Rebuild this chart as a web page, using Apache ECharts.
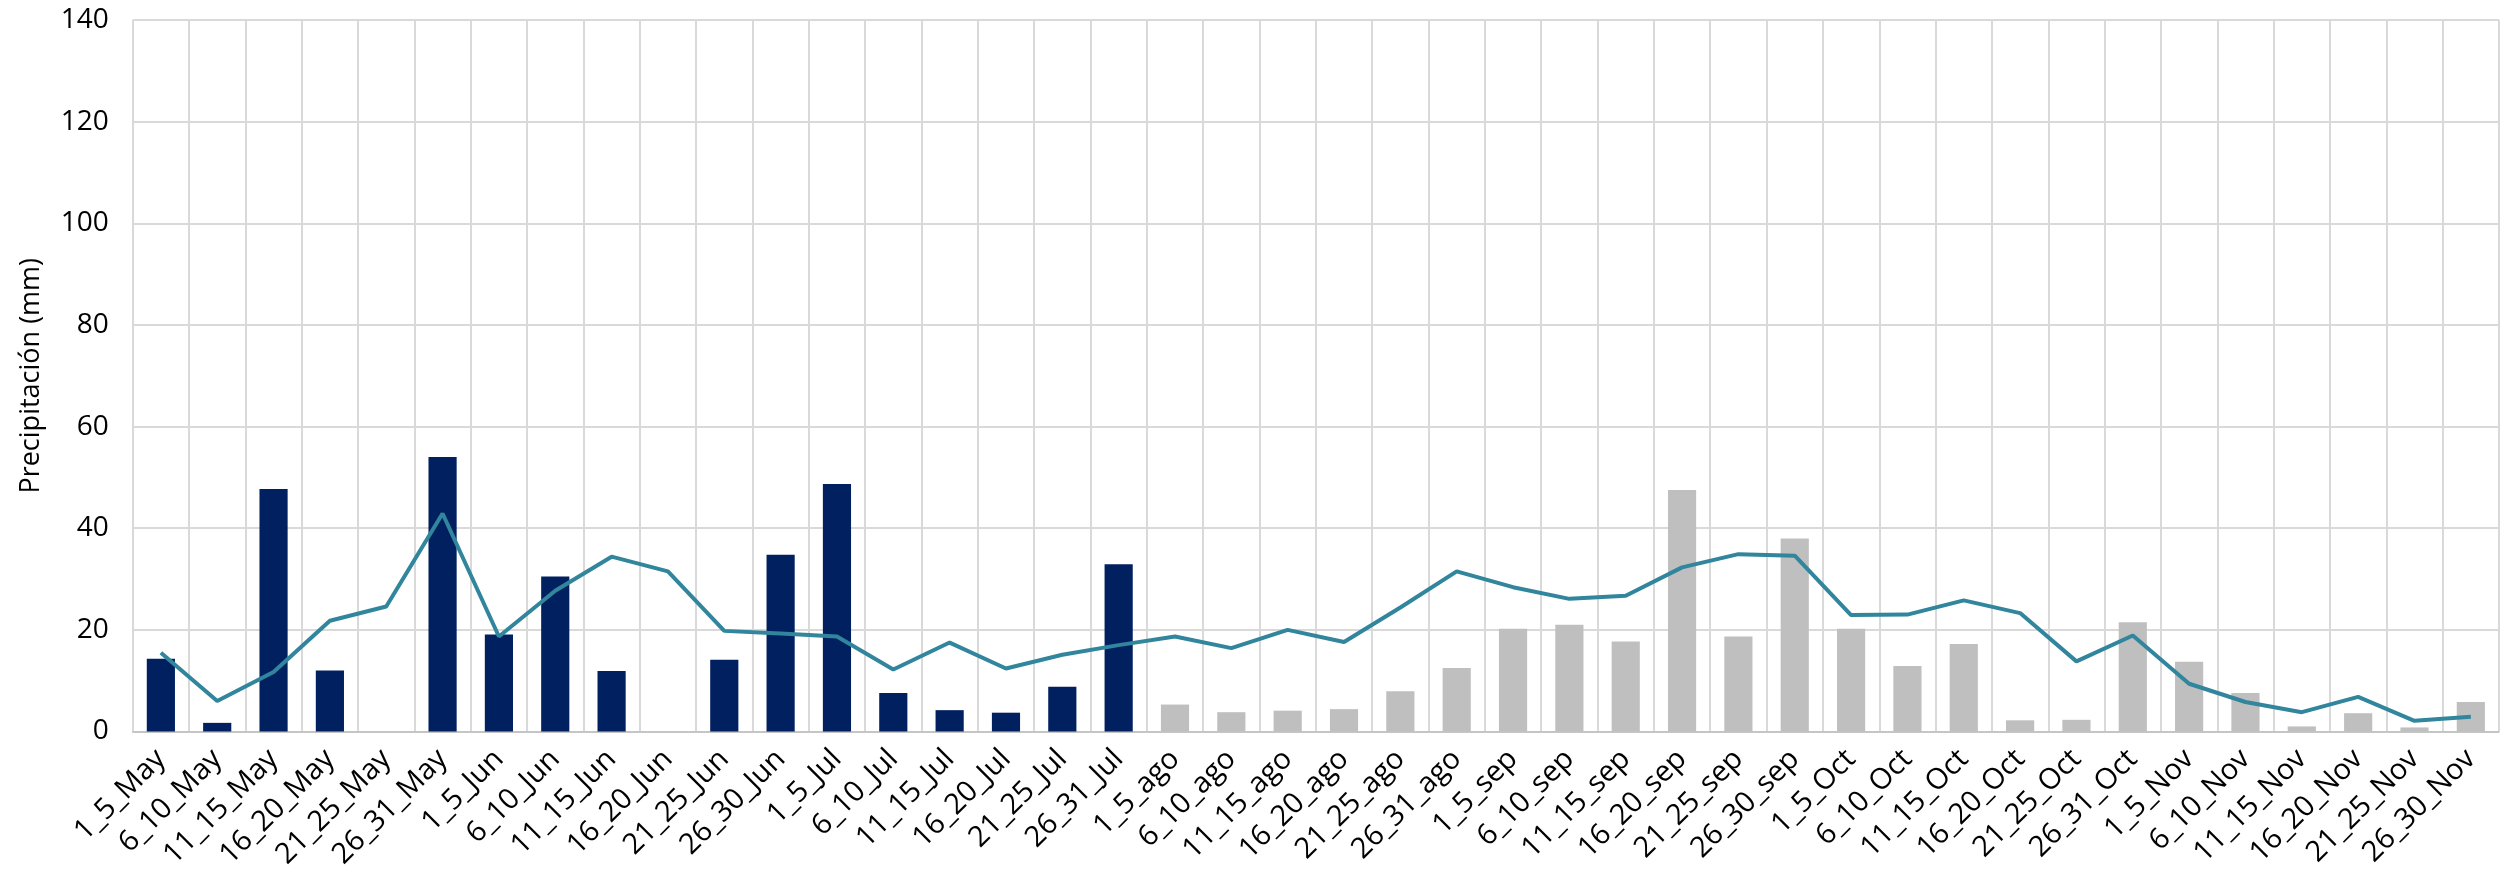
<!DOCTYPE html>
<html>
<head>
<meta charset="utf-8">
<script src="https://cdn.jsdelivr.net/npm/echarts@6/dist/echarts.min.js"></script>
<style>
html,body{margin:0;padding:0;background:#fff;}
#chart{width:2501px;height:876px;}
</style>
</head>
<body>
<div id="chart"></div>
<script>
const categories = [
  "1_5_May","6_10_May","11_15_May","16_20_May","21_25_May","26_31_May",
  "1_5_Jun","6_10_Jun","11_15_Jun","16_20_Jun","21_25_Jun","26_30_Jun",
  "1_5_Jul","6_10_Jul","11_15_Jul","16_20_Jul","21_25_Jul","26_31_Jul",
  "1_5_ago","6_10_ago","11_15_ago","16_20_ago","21_25_ago","26_31_ago",
  "1_5_sep","6_10_sep","11_15_sep","16_20_sep","21_25_sep","26_30_sep",
  "1_5_Oct","6_10_Oct","11_15_Oct","16_20_Oct","21_25_Oct","26_31_Oct",
  "1_5_Nov","6_10_Nov","11_15_Nov","16_20_Nov","21_25_Nov","26_30_Nov"
];
// observed precipitation (May-Jul)
const observedBars = [14.3,1.7,47.7,12.0,0,54.0,19.1,30.5,11.9,0,14.1,34.8,48.7,7.6,4.2,3.7,8.8,32.9];
// remaining period bars (ago-Nov)
const laterBars = [5.3,3.8,4.1,4.4,7.9,12.5,20.2,21.0,17.7,47.5,18.7,38.0,20.2,12.9,17.2,2.2,2.3,21.5,13.7,7.6,1.0,3.6,0.8,5.8];
// reference line
const lineValues = [15.5,6.0,11.7,21.8,24.6,42.9,18.7,27.7,34.4,31.5,19.8,19.3,18.7,12.2,17.5,12.4,15.1,17.0,18.7,16.4,20.0,17.6,24.4,31.5,28.4,26.1,26.7,32.3,34.9,34.6,22.9,23.0,25.8,23.3,13.8,18.9,9.4,5.8,3.8,6.8,2.1,2.9];
const yTicks = {min:0, max:140, interval:20};
const yTitle = "Precipitación (mm)";

const obsSeries = categories.map((c,i)=> i < observedBars.length ? observedBars[i] : null);
const laterSeries = categories.map((c,i)=> i >= observedBars.length ? laterBars[i-observedBars.length] : null);

const font = "'Open Sans', 'Noto Sans', sans-serif";
const chart = echarts.init(document.getElementById('chart'), null, {renderer:'canvas'});
chart.setOption({
  animation:false,
  backgroundColor:'#ffffff',
  grid:{left:132.7, right:2, top:20, bottom:144.5, containLabel:false},
  xAxis:{
    type:'category',
    data:categories,
    boundaryGap:true,
    axisLine:{show:true, lineStyle:{color:'#BFBFBF', width:1.5}},
    axisTick:{show:false, interval:0},
    splitLine:{show:true, interval:0, lineStyle:{color:'#D9D9D9', width:2}},
    axisLabel:{interval:0, rotate:45, color:'#000', fontFamily:font, fontSize:29, margin:23}
  },
  yAxis:{
    type:'value',
    min:yTicks.min, max:yTicks.max, interval:yTicks.interval,
    name:yTitle,
    nameLocation:'middle',
    nameGap:88,
    nameTextStyle:{color:'#000', fontFamily:font, fontSize:27},
    axisLine:{show:false},
    axisTick:{show:false},
    splitLine:{show:true, lineStyle:{color:'#D9D9D9', width:2}},
    axisLabel:{color:'#000', fontFamily:font, fontSize:28, margin:24}
  },
  series:[
    {type:'bar', data:obsSeries, stack:'p', barWidth:'50%', itemStyle:{color:'#002060'}},
    {type:'bar', data:laterSeries, stack:'p', barWidth:'50%', itemStyle:{color:'#BFBFBF'}},
    {type:'line', data:lineValues, symbol:'none', lineStyle:{color:'#31859C', width:4}, itemStyle:{color:'#31859C'}, z:5}
  ]
});
</script>
</body>
</html>
